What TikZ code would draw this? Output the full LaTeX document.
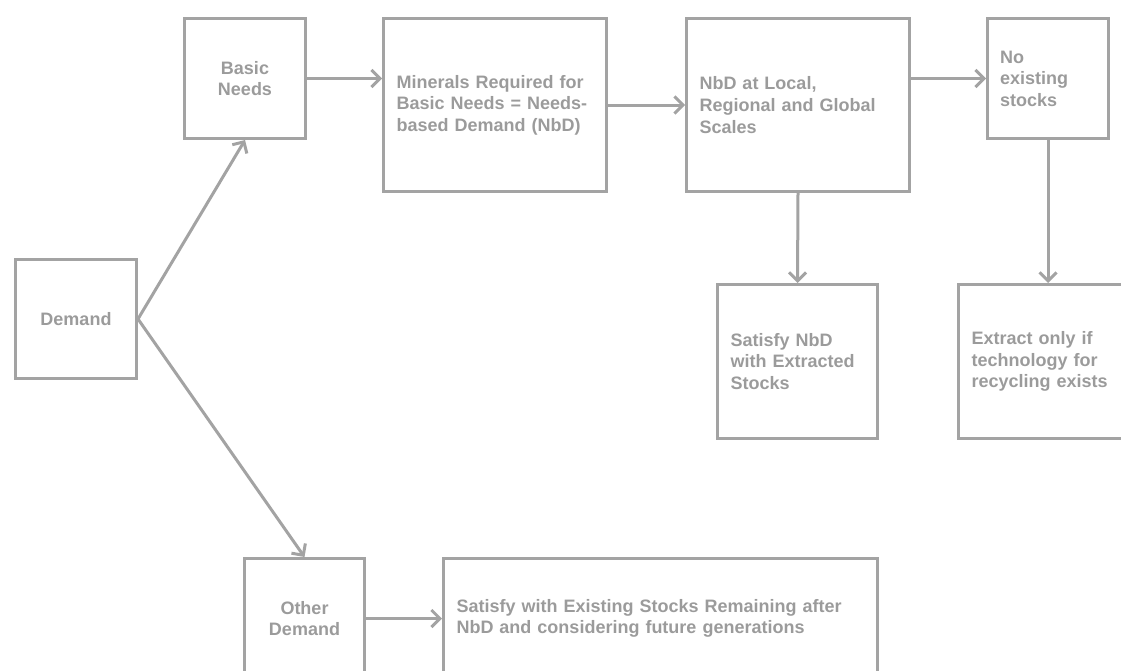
\documentclass[tikz,border=0pt]{standalone}
\usepackage{fontspec}
\setmainfont{Liberation Sans}
\usetikzlibrary{arrows.meta}
\definecolor{linegray}{RGB}{163,163,163}
\definecolor{textgray}{RGB}{155,155,155}
\tikzset{
  box/.style={draw=linegray, line width=3pt, rectangle, inner sep=0pt,
    font=\fontsize{18}{21.6}\selectfont\bfseries, text=textgray},
  lbox/.style={box, align=left},
  cbox/.style={box, align=center},
  conn/.style={draw=linegray, line width=3pt,
    -{Straight Barb[length=8.5pt,width=17pt,line width=3pt]}},
}
\begin{document}
\begin{tikzpicture}[x=1pt,y=-1pt]
\useasboundingbox (0,0) rectangle (1121,670);
\clip (0,0) rectangle (1121,670);
% boxes (pixel coordinates, y downwards)
\node[cbox, minimum width=121pt, minimum height=119pt, anchor=north west] (dem) at (14,258) {Demand};
\node[cbox, minimum width=121pt, minimum height=120pt, anchor=north west] (basic) at (183,17) {Basic\\Needs};
\node[lbox, minimum width=223pt, minimum height=173pt, text width=197pt, anchor=north west] (min) at (382,17) {Minerals Required for\\Basic Needs = Needs-\\based Demand (NbD)};
\node[lbox, minimum width=223pt, minimum height=173pt, text width=197pt, anchor=north west] (nbd) at (685,17) {NbD at Local,\\Regional and Global\\Scales};
\node[lbox, minimum width=121pt, minimum height=120pt, text width=96pt, anchor=north west] (noex) at (986,17) {No\\existing\\stocks};
\node[lbox, minimum width=160pt, minimum height=154pt, text width=134pt, anchor=north west] (satnbd) at (716,283) {Satisfy NbD\\with Extracted\\Stocks};
\node[lbox, minimum width=179pt, minimum height=154pt, text width=153pt, anchor=north west] (extr) at (957,283) {Extract only if\\technology for\\recycling exists};
\node[cbox, minimum width=120pt, minimum height=120pt, anchor=north west] (other) at (243,557) {Other\\Demand};
\node[lbox, minimum width=434pt, minimum height=120pt, text width=408pt, anchor=north west] (satex) at (442,557) {Satisfy with Existing Stocks Remaining after\\NbD and considering future generations};
% connectors
\draw[conn] (dem.east) -- (basic.south);
\draw[conn] (dem.east) -- (other.north);
\draw[conn] (basic.east) -- (basic.east -| min.west);
\draw[conn] (min.east) -- (nbd.west);
\draw[conn] (noex.west -| nbd.east) -- (noex.west);
\draw[conn] (nbd.south) -- (satnbd.north);
\draw[conn] (noex.south) -- (extr.north);
\draw[conn] (other.east) -- (satex.west);
\end{tikzpicture}
\end{document}
